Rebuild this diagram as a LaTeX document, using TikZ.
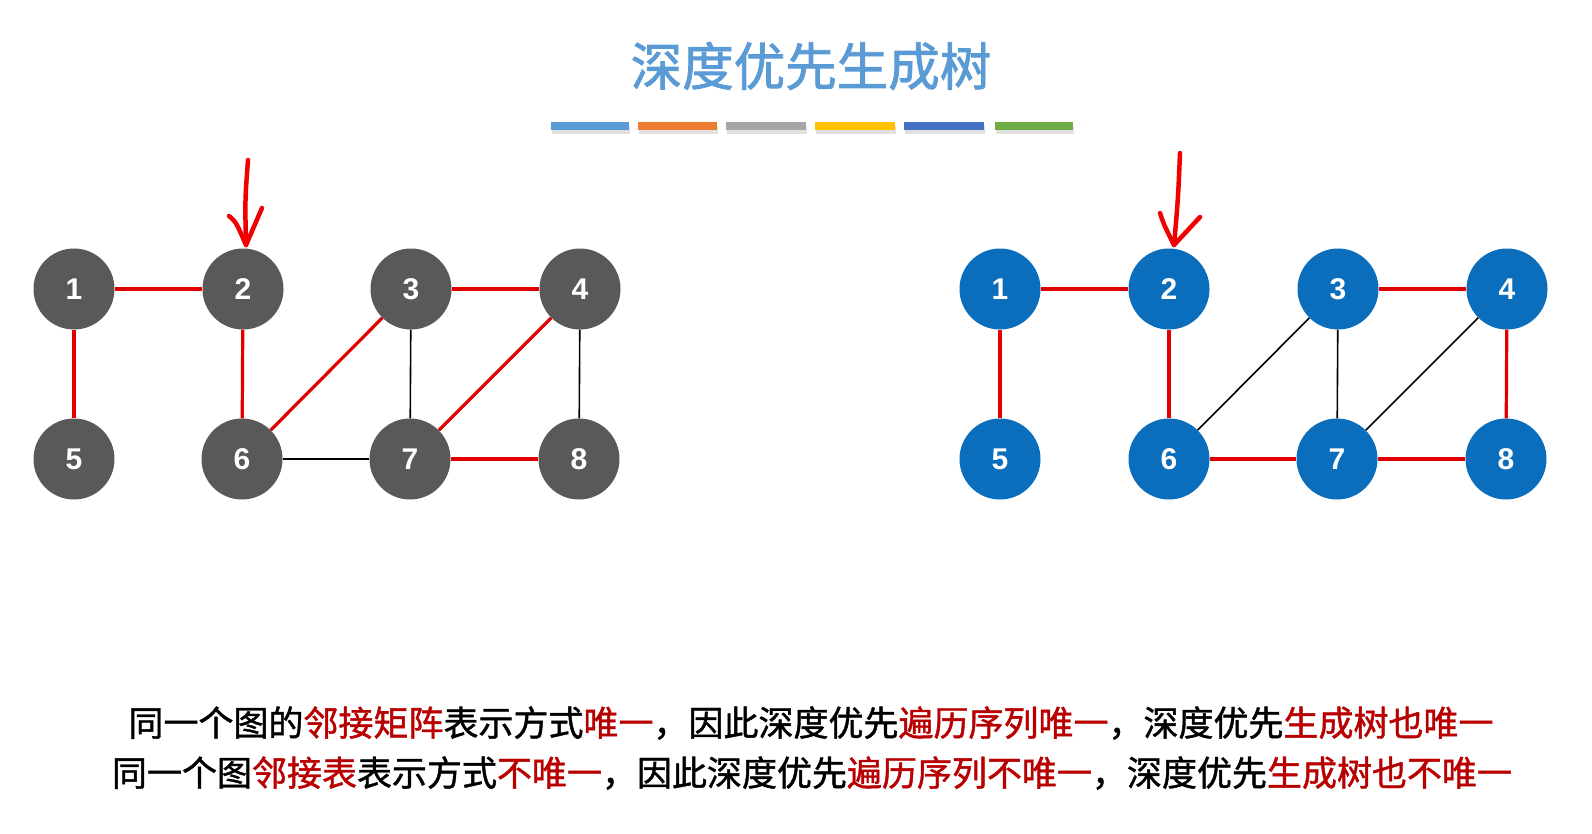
\documentclass[tikz,border=0pt]{standalone}
\usepackage{fontspec}
\setmainfont{Liberation Sans}
\newfontfamily\cjk[FakeBold=1.2]{Noto Sans CJK SC}
\newfontfamily\cjktitle[FakeBold=1.6]{Noto Sans CJK SC}
\definecolor{titleblue}{HTML}{5B9BD5}
\definecolor{barblue}{HTML}{5B9BD5}
\definecolor{barorange}{HTML}{ED7D31}
\definecolor{bargray}{HTML}{A5A5A5}
\definecolor{baryellow}{HTML}{FFC000}
\definecolor{bardblue}{HTML}{4472C4}
\definecolor{bargreen}{HTML}{70AD47}
\definecolor{nodegray}{HTML}{595959}
\definecolor{nodeblue}{HTML}{0A6EBD}
\definecolor{edgered}{HTML}{E00000}
\definecolor{textred}{HTML}{B80000}
\definecolor{handred}{HTML}{F00000}
\tikzset{
  gnode/.style={circle, fill=nodegray, minimum size=81, inner sep=0, text=white, font=\fontsize{30}{30}\selectfont\bfseries},
  bnode/.style={gnode, fill=nodeblue},
  redge/.style={draw=edgered, line width=3.2},
  kedge/.style={draw=black, line width=1.6},
  handarrow/.style={draw=handred, line width=4.5, line cap=round, line join=round},
  bartext/.style={font=\cjk\fontsize{35}{40}\selectfont, anchor=center},
}
\begin{document}
\begin{tikzpicture}[x=1pt,y=-1pt]
\useasboundingbox[fill=white] (0,0) rectangle (1592,833);
% title
\node[font=\cjktitle\fontsize{51.5}{60}\selectfont, text=titleblue] (title) at (811,66) {深度优先生成树};
% color bars
\foreach \xa/\xb/\c in {551/629/barblue, 638/717/barorange, 726/806/bargray, 815/895/baryellow, 904/984/bardblue, 995/1073/bargreen}{
  \fill[black!12] (\xa+1,126) rectangle (\xb+1,134);
  \fill[\c] (\xa,122) rectangle (\xb,130);
}
% left graph
\node[gnode] (L1) at (74,289) {1};
\node[gnode] (L2) at (243,289) {2};
\node[gnode] (L3) at (411,289) {3};
\node[gnode] (L4) at (580,289) {4};
\node[gnode] (L5) at (74,459) {5};
\node[gnode] (L6) at (242,459) {6};
\node[gnode] (L7) at (410,459) {7};
\node[gnode] (L8) at (579,459) {8};
\draw[redge] (L1) -- (L2);
\draw[redge] (L1) -- (L5);
\draw[redge] (L2) -- (L6);
\draw[redge] (L6) -- (L3);
\draw[redge] (L3) -- (L4);
\draw[redge] (L4) -- (L7);
\draw[redge] (L7) -- (L8);
\draw[kedge] (L3) -- (L7);
\draw[kedge] (L4) -- (L8);
\draw[kedge] (L6) -- (L7);
% right graph
\node[bnode] (R1) at (1000,289) {1};
\node[bnode] (R2) at (1169,289) {2};
\node[bnode] (R3) at (1338,289) {3};
\node[bnode] (R4) at (1507,289) {4};
\node[bnode] (R5) at (1000,459) {5};
\node[bnode] (R6) at (1169,459) {6};
\node[bnode] (R7) at (1337,459) {7};
\node[bnode] (R8) at (1506,459) {8};
\draw[redge] (R1) -- (R2);
\draw[redge] (R1) -- (R5);
\draw[redge] (R2) -- (R6);
\draw[redge] (R6) -- (R7);
\draw[redge] (R7) -- (R8);
\draw[redge] (R8) -- (R4);
\draw[redge] (R3) -- (R4);
\draw[kedge] (R3) -- (R7);
\draw[kedge] (R6) -- (R3);
\draw[kedge] (R7) -- (R4);
% hand-drawn arrows
\coordinate (LAtop) at (248,160);
\coordinate (LAl) at (229,216);
\coordinate (LAr) at (262,208);
\coordinate (LAtip) at (246,245);
\draw[handarrow] (LAtop) .. controls (245,200) .. (LAtip);
\draw[handarrow] (LAl) .. controls (236,222) .. (LAtip) -- (LAr);
\coordinate (RAtop) at (1180,153);
\coordinate (RAl) at (1160,213);
\coordinate (RAr) at (1200,217);
\coordinate (RAtip) at (1174,245);
\draw[handarrow] (RAtop) .. controls (1178,200) .. (RAtip);
\draw[handarrow] (RAl) .. controls (1164,225) .. (RAtip) -- (RAr);
% bottom text
\node[bartext] (line1) at (811,723) {同一个图的\textcolor{textred}{邻接矩阵}表示方式\textcolor{textred}{唯一}，因此深度优先\textcolor{textred}{遍历序列唯一}，深度优先\textcolor{textred}{生成树也唯一}};
\node[bartext] (line2) at (812,773) {同一个图\textcolor{textred}{邻接表}表示方式\textcolor{textred}{不唯一}，因此深度优先\textcolor{textred}{遍历序列不唯一}，深度优先\textcolor{textred}{生成树也不唯一}};
\end{tikzpicture}
\end{document}
